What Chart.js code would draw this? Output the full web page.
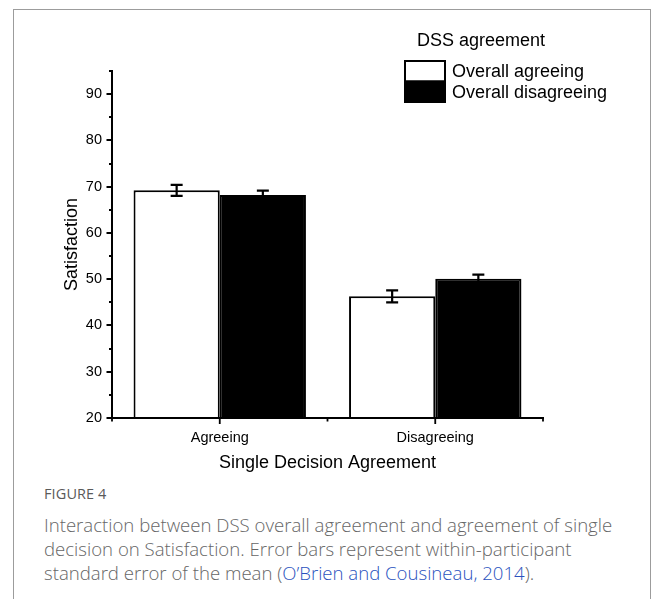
<!DOCTYPE html>
<html>
<head>
<meta charset="utf-8">
<script src="https://cdn.jsdelivr.net/npm/chart.js@4"></script>
<style>
  html, body { margin: 0; padding: 0; background: #fff; }
  body { width: 656px; height: 599px; position: relative; overflow: hidden; }
  #frame { position: absolute; left: 13px; top: 9px; width: 638px; height: 620px;
           border-left: 1.5px solid #9c9c9c; border-top: 1.5px solid #9c9c9c; border-right: 1.5px solid #9c9c9c; box-sizing: border-box; }
  #chart { position: absolute; left: 0; top: 0; }
  #caption { position: absolute; left: 44px; top: 484px; width: 605px; white-space: nowrap; font-family: "Open Sans", "Noto Sans", sans-serif; color: #666; }
  #caption .fig { font-size: 14.5px; line-height: 20px; color: #5a5a5a; letter-spacing: 0.1px; }
  #caption .txt { font-size: 18.6px; line-height: 24px; font-weight: 300; margin-top: 9px; }
  #caption a { color: #2a52be; text-decoration: none; }
</style>
</head>
<body>
<div id="frame"></div>
<canvas id="chart" width="656" height="480"></canvas>
<div id="caption">
  <div class="fig">FIGURE 4</div>
  <div class="txt">Interaction between DSS overall agreement and agreement of single<br>decision on Satisfaction. Error bars represent within-participant<br>standard error of the mean (<a>O’Brien and Cousineau, 2014</a>).</div>
</div>
<script>
// Single-decision agreement groups on the x axis
const categories = ['Agreeing', 'Disagreeing'];
// Mean satisfaction for each DSS overall-agreement group
const agreeingMeans = [69.2, 46.3];
const disagreeingMeans = [68.2, 50.1];
// Within-participant standard errors
const agreeingErrors = [1.2, 1.3];
const disagreeingErrors = [0.95, 0.9];
// Labelled y ticks
const yTickLabels = [20, 30, 40, 50, 60, 70, 80, 90];
const legendTitle = 'DSS agreement';

const FONT = '"Liberation Sans", Arial, sans-serif';

// Axis ticks: long at labelled values, short in between
const axisTicks = {
  id: 'axisTicks',
  afterDraw(chart) {
    const { ctx } = chart;
    const x = chart.scales.x, y = chart.scales.y;
    ctx.save();
    ctx.strokeStyle = '#000';
    ctx.lineWidth = 1.8;
    ctx.beginPath();
    for (let v = y.min; v <= y.max + 1e-9; v += 5) {
      const py = Math.round(y.getPixelForValue(v));
      const len = v % 10 === 0 ? 5.5 : 3;
      ctx.moveTo(x.left, py);
      ctx.lineTo(x.left - len, py);
    }
    for (let i = 0; i < categories.length; i++) {
      const px = x.getPixelForValue(i);
      ctx.moveTo(px, y.bottom);
      ctx.lineTo(px, y.bottom + 6);
    }
    for (let i = 0; i <= categories.length; i++) {
      const px = x.getPixelForValue(i - 0.5);
      ctx.moveTo(px, y.bottom);
      ctx.lineTo(px, y.bottom + 3.5);
    }
    // x axis line redrawn over the bar bases
    ctx.moveTo(x.left, y.bottom);
    ctx.lineTo(x.right, y.bottom);
    ctx.stroke();
    ctx.restore();
  }
};

// I-shaped error bars on top of each bar
const errorBars = {
  id: 'errorBars',
  afterDatasetsDraw(chart) {
    const { ctx } = chart;
    const y = chart.scales.y;
    ctx.save();
    ctx.strokeStyle = '#000';
    ctx.lineWidth = 2.2;
    chart.data.datasets.forEach((ds, di) => {
      const meta = chart.getDatasetMeta(di);
      meta.data.forEach((bar, i) => {
        const v = ds.data[i], e = ds.errors[i];
        const top = y.getPixelForValue(v + e);
        const bot = y.getPixelForValue(v - e);
        const cx = bar.x, hw = 6;
        ctx.beginPath();
        ctx.moveTo(cx, top); ctx.lineTo(cx, bot);
        ctx.moveTo(cx - hw, top); ctx.lineTo(cx + hw, top);
        ctx.moveTo(cx - hw, bot); ctx.lineTo(cx + hw, bot);
        ctx.stroke();
      });
    });
    ctx.restore();
  }
};

// Legend with a title above two stacked swatches
const boxLegend = {
  id: 'boxLegend',
  afterDraw(chart) {
    const { ctx } = chart;
    ctx.save();
    ctx.font = '18px ' + FONT;
    ctx.fillStyle = '#000';
    ctx.textBaseline = 'middle';
    ctx.textAlign = 'left';
    ctx.fillText(legendTitle, 417, 41);
    const bx = 405, bw = 40, bh = 20.5;
    chart.data.datasets.forEach((ds, i) => {
      const by = 61 + i * bh;
      ctx.fillStyle = ds.backgroundColor;
      ctx.fillRect(bx, by, bw, bh);
      ctx.strokeStyle = '#000';
      ctx.lineWidth = 2;
      ctx.strokeRect(bx, by, bw, bh);
      ctx.fillStyle = '#000';
      ctx.fillText(ds.label, 452, by + bh / 2 + 1);
    });
    ctx.restore();
  }
};

new Chart(document.getElementById('chart'), {
  type: 'bar',
  data: {
    labels: categories,
    datasets: [
      { label: 'Overall agreeing', data: agreeingMeans, errors: agreeingErrors,
        backgroundColor: '#ffffff', borderColor: '#000', borderWidth: 2 },
      { label: 'Overall disagreeing', data: disagreeingMeans, errors: disagreeingErrors,
        backgroundColor: '#000000', borderColor: '#000', borderWidth: 2 }
    ]
  },
  options: {
    responsive: false,
    animation: false,
    devicePixelRatio: 1,
    layout: { padding: { top: 71, right: 113, left: 0, bottom: 0 } },
    datasets: { bar: { categoryPercentage: 0.8, barPercentage: 1.0, borderSkipped: 'start' } },
    plugins: { legend: { display: false }, tooltip: { enabled: false } },
    scales: {
      x: {
        offset: true,
        grid: { display: false, drawTicks: false },
        border: { display: true, color: '#000', width: 2 },
        ticks: { color: '#000', font: { family: FONT, size: 14.5 }, padding: 11, maxRotation: 0 },
        title: { display: true, text: 'Single Decision Agreement', color: '#000',
                 font: { family: FONT, size: 18 }, padding: { top: 0, bottom: 6 } },
        afterFit(s) { s.height = 62; }
      },
      y: {
        min: 20, max: 95,
        grid: { display: false, drawTicks: false },
        border: { display: true, color: '#000', width: 2 },
        ticks: { color: '#000', font: { family: FONT, size: 14.5 }, padding: 10 },
        afterBuildTicks(s) { s.ticks = yTickLabels.map(v => ({ value: v })); },
        title: { display: true, text: 'Satisfaction', color: '#000',
                 font: { family: FONT, size: 18 }, padding: { top: 61, bottom: 0 } },
        afterFit(s) { s.width = 112; }
      }
    }
  },
  plugins: [axisTicks, errorBars, boxLegend]
});
</script>
</body>
</html>
